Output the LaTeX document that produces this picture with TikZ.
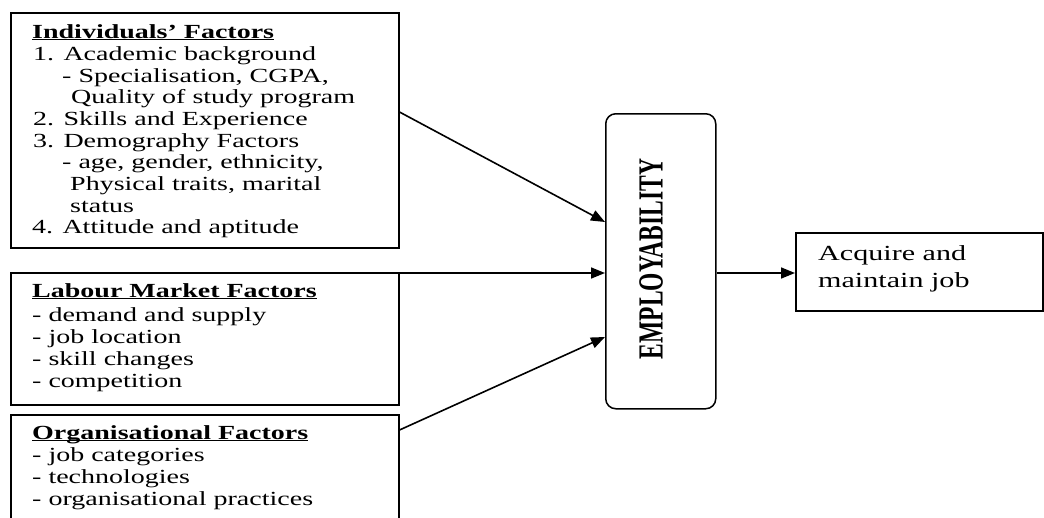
\documentclass[tikz,border=0pt]{standalone}
\usepackage{fontspec}
\setmainfont{Liberation Serif}[FakeStretch=1.4]
\newfontfamily\plainserif{Liberation Serif}
\usetikzlibrary{arrows.meta,calc}
\newcommand{\titleul}[1]{\underline{\smash{#1}}}
\begin{document}
\begin{tikzpicture}[x=1pt,y=-1pt,
  box/.style={draw, line width=1.5pt, rectangle, anchor=north west, inner sep=0pt},
  txt/.style={anchor=base west, inner sep=0pt, font=\fontsize{20}{22}\selectfont},
  conn/.style={line width=1.6pt, -{Triangle[length=14pt,width=11pt]}}]
\useasboundingbox (0,0) rectangle (1044,517);
\clip (0,0) rectangle (1044,517);
% boxes
\node[box, minimum width=388pt, minimum height=235pt] (ind) at (10,12) {};
\node[box, minimum width=388pt, minimum height=132pt] (lab) at (10,272) {};
\node[box, minimum width=388pt, minimum height=125pt] (org) at (10,414) {};
\node[box, rounded corners=10pt, minimum width=110pt, minimum height=295pt] (emp) at (605,113) {};
\node[box, minimum width=247pt, minimum height=78pt] (acq) at (795,232) {};
% individuals
\node[txt] (i0) at (32,38) {\bfseries\titleul{Individuals’ Factors}};
\node[txt] (i1) at (33,60) {1. Academic background};
\node[txt] (i2) at (62,82) {- Specialisation, CGPA,};
\node[txt] (i3) at (71,103) {Quality of study program};
\node[txt] (i4) at (33,125) {2. Skills and Experience};
\node[txt] (i5) at (33,147) {3. Demography Factors};
\node[txt] (i6) at (62,168) {- age, gender, ethnicity,};
\node[txt] (i7) at (70,190) {Physical traits, marital};
\node[txt] (i8) at (70,212) {status};
\node[txt] (i9) at (32,233) {4. Attitude and aptitude};
% labour
\node[txt] (l0) at (32,297) {\bfseries\titleul{Labour Market Factors}};
\node[txt] (l1) at (32,321) {- demand and supply};
\node[txt] (l2) at (32,343) {- job location};
\node[txt] (l3) at (32,365) {- skill changes};
\node[txt] (l4) at (32,387) {- competition};
% organisational
\node[txt] (o0) at (32,439) {\bfseries\titleul{Organisational Factors}};
\node[txt] (o1) at (32,461) {- job categories};
\node[txt] (o2) at (32,483) {- technologies};
\node[txt] (o3) at (32,505) {- organisational practices};
% employability
\node[inner sep=0pt] (empt) at (651,259) {\scalebox{1.5}[1]{\rotatebox{90}{\plainserif\fontsize{23.5}{26}\selectfont\bfseries EMPLOYABILITY}}};
% acquire
\node[txt, font=\fontsize{21.5}{24}\selectfont] (a1) at (818,260) {Acquire and};
\node[txt, font=\fontsize{21.5}{24}\selectfont] (a2) at (818,287) {maintain job};
% connectors
\draw[conn] ($(ind.north east)+(0,100)$) -- ($(emp.north west)+(0,109)$);
\draw[conn] ($(lab.north east)+(0,1)$) -- ($(emp.north west)+(0,160)$);
\draw[conn] ($(org.north east)+(0,16)$) -- ($(emp.north west)+(0,224)$);
\draw[conn] ($(emp.north east)+(0,160)$) -- ($(acq.north west)+(0,41)$);
\end{tikzpicture}
\end{document}
